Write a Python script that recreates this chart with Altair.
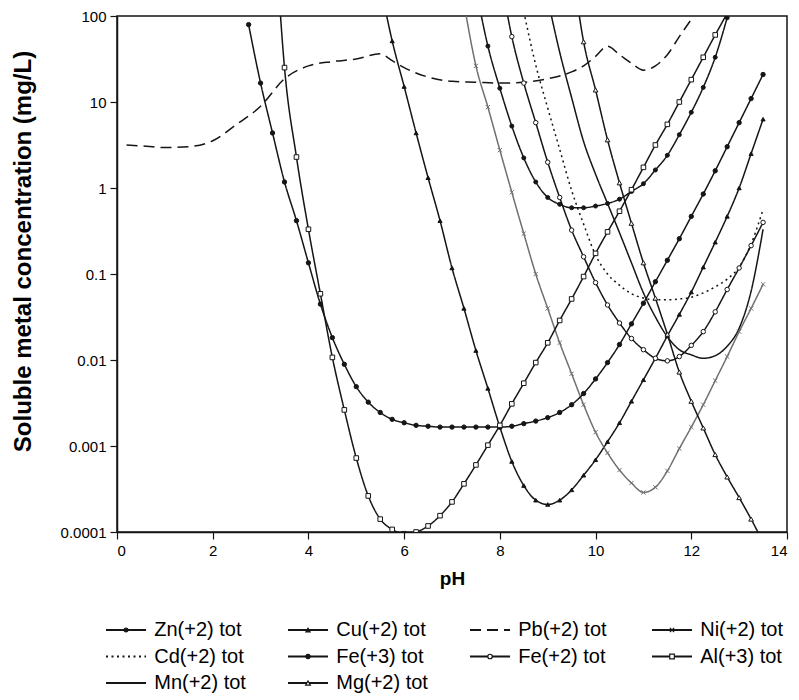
import altair as alt
import pandas as pd

# ---------------- data (log10 of mg/L) ----------------
SERIES = ["Zn(+2) tot", "Cu(+2) tot", "Pb(+2) tot", "Ni(+2) tot", "Cd(+2) tot",
          "Fe(+3) tot", "Fe(+2) tot", "Al(+3) tot", "Mn(+2) tot", "Mg(+2) tot"]

ph_pb = [0.2, 0.5, 1.0, 1.5, 2.0, 2.5, 3.0, 3.5, 4.0, 4.5, 5.0, 5.5, 5.75, 6.0, 6.5, 7.0,
         7.5, 8.0, 8.5, 9.0, 9.5, 9.75, 10.0, 10.25, 10.5, 10.75, 11.0, 11.25, 11.5, 11.75, 12.05]
log_pb = [0.50, 0.49, 0.47, 0.48, 0.55, 0.74, 0.95, 1.27, 1.42, 1.47, 1.50, 1.56, 1.48, 1.40, 1.29, 1.24,
          1.23, 1.22, 1.23, 1.27, 1.35, 1.42, 1.53, 1.65, 1.55, 1.45, 1.37, 1.42, 1.55, 1.76, 2.0]

ph_fe3 = [2.75, 3.0, 3.25, 3.5, 3.75, 4.0, 4.25, 4.5, 4.75, 5.0, 5.25, 5.5, 5.75, 6.0, 6.25,
          6.5, 6.75, 7.0, 7.25, 7.5, 7.75, 8.0, 8.25, 8.5, 8.75, 9.0, 9.25, 9.5, 9.75, 10.0,
          10.25, 10.5, 10.75, 11.0, 11.25, 11.5, 11.75, 12.0, 12.25, 12.5, 12.75, 13.0, 13.25, 13.5]
log_fe3 = [1.90, 1.22, 0.64, 0.07, -0.38, -0.87, -1.35, -1.74, -2.05, -2.31, -2.49, -2.61, -2.69, -2.73, -2.76,
           -2.77, -2.78, -2.78, -2.78, -2.78, -2.78, -2.78, -2.77, -2.74, -2.71, -2.67, -2.61, -2.52, -2.39, -2.22,
           -2.03, -1.82, -1.58, -1.34, -1.09, -0.84, -0.59, -0.33, -0.07, 0.20, 0.48, 0.76, 1.04, 1.32]

ph_al = [3.25, 3.5, 3.75, 4.0, 4.25, 4.5, 4.75, 5.0, 5.25, 5.5, 5.75, 6.0, 6.25, 6.5, 6.75,
         7.0, 7.25, 7.5, 7.75, 8.0, 8.25, 8.5, 8.75, 9.0, 9.25, 9.5, 9.75, 10.0, 10.25, 10.5,
         10.75, 11.0, 11.25, 11.5, 11.75, 12.0, 12.25, 12.5, 12.75]
log_al = [3.50, 1.40, 0.36, -0.48, -1.23, -1.97, -2.58, -3.14, -3.58, -3.85, -3.97, -4.02, -4.00, -3.93, -3.81,
          -3.65, -3.44, -3.22, -2.99, -2.76, -2.51, -2.27, -2.03, -1.80, -1.54, -1.29, -1.03, -0.76, -0.51, -0.27,
          -0.02, 0.24, 0.50, 0.74, 1.00, 1.26, 1.52, 1.78, 2.03]

ph_cu = [5.5, 5.75, 6.0, 6.25, 6.5, 6.75, 7.0, 7.25, 7.5, 7.75, 8.0, 8.25, 8.5, 8.75, 9.0, 9.25, 9.5,
         9.75, 10.0, 10.25, 10.5, 10.75, 11.0, 11.25, 11.5, 11.75, 12.0, 12.25, 12.5, 12.75, 13.0, 13.25, 13.5]
log_cu = [2.37, 1.71, 1.18, 0.64, 0.12, -0.38, -0.93, -1.40, -1.89, -2.33, -2.78, -3.18, -3.46, -3.63, -3.68, -3.63, -3.51,
          -3.34, -3.16, -2.95, -2.73, -2.48, -2.23, -1.98, -1.72, -1.47, -1.21, -0.92, -0.63, -0.33, 0.00, 0.40, 0.80]

ph_zn = [7.5, 7.75, 8.0, 8.25, 8.5, 8.75, 9.0, 9.25, 9.5, 9.75, 10.0, 10.25, 10.5, 10.75, 11.0,
         11.25, 11.5, 11.75, 12.0, 12.25, 12.5, 12.75]
log_zn = [2.32, 1.65, 1.16, 0.72, 0.35, 0.07, -0.11, -0.19, -0.23, -0.23, -0.21, -0.18, -0.13, -0.04, 0.05,
          0.21, 0.38, 0.62, 0.88, 1.17, 1.52, 1.98]

ph_ni = [7.25, 7.5, 7.75, 8.0, 8.25, 8.5, 8.75, 9.0, 9.25, 9.5, 9.75, 10.0, 10.25, 10.5, 10.75,
         11.0, 11.25, 11.5, 11.75, 12.0, 12.25, 12.5, 12.75, 13.0, 13.25, 13.5]
log_ni = [2.15, 1.42, 0.94, 0.44, -0.05, -0.53, -1.00, -1.40, -1.80, -2.16, -2.52, -2.84, -3.08, -3.28, -3.43,
          -3.54, -3.48, -3.29, -3.03, -2.78, -2.52, -2.24, -1.96, -1.67, -1.40, -1.12]

ph_fe2 = [8.0, 8.25, 8.5, 8.75, 9.0, 9.25, 9.5, 9.75, 10.0, 10.25, 10.5, 10.75, 11.0, 11.25, 11.5,
          11.75, 12.0, 12.25, 12.5, 12.75, 13.0, 13.25, 13.5]
log_fe2 = [2.51, 1.76, 1.22, 0.76, 0.30, -0.11, -0.49, -0.80, -1.10, -1.36, -1.57, -1.75, -1.88, -1.98, -2.01,
           -1.96, -1.83, -1.67, -1.44, -1.18, -0.93, -0.67, -0.40]

ph_cd = [8.5, 8.75, 9.0, 9.25, 9.5, 9.75, 10.0, 10.25, 10.5, 10.75, 11.0, 11.25, 11.5, 11.75, 12.0,
         12.25, 12.5, 12.75, 13.0, 13.25, 13.5]
log_cd = [2.05, 1.43, 0.93, 0.45, -0.03, -0.42, -0.78, -1.00, -1.13, -1.23, -1.28, -1.30, -1.30, -1.29, -1.27,
          -1.22, -1.15, -1.06, -0.92, -0.65, -0.25]

ph_mn = [9.0, 9.25, 9.5, 9.75, 10.0, 10.25, 10.5, 10.75, 11.0, 11.25, 11.5, 11.75, 12.0, 12.25, 12.5,
         12.75, 13.0, 13.25, 13.5]
log_mn = [2.20, 1.58, 1.05, 0.54, 0.16, -0.18, -0.52, -0.87, -1.22, -1.50, -1.73, -1.88, -1.94, -1.98, -1.95,
          -1.84, -1.63, -1.20, -0.48]

ph_mg = [9.5, 9.75, 10.0, 10.25, 10.5, 10.75, 11.0, 11.25, 11.5, 11.75, 12.0, 12.25, 12.5, 12.75,
         13.0, 13.25, 13.5]
log_mg = [2.64, 1.70, 1.14, 0.56, 0.06, -0.41, -0.87, -1.28, -1.70, -2.14, -2.48, -2.79, -3.10, -3.36,
          -3.60, -3.85, -4.12]

y_ticks = [0.0001, 0.001, 0.01, 0.1, 1, 10, 100]
x_ticks = [0, 2, 4, 6, 8, 10, 12, 14]

curves = {
    "Zn(+2) tot": (ph_zn, log_zn), "Cu(+2) tot": (ph_cu, log_cu), "Pb(+2) tot": (ph_pb, log_pb),
    "Ni(+2) tot": (ph_ni, log_ni), "Cd(+2) tot": (ph_cd, log_cd), "Fe(+3) tot": (ph_fe3, log_fe3),
    "Fe(+2) tot": (ph_fe2, log_fe2), "Al(+3) tot": (ph_al, log_al), "Mn(+2) tot": (ph_mn, log_mn),
    "Mg(+2) tot": (ph_mg, log_mg),
}
rows = []
for name, (xs, ls) in curves.items():
    for x, l in zip(xs, ls):
        rows.append({"series": name, "pH": x, "conc": 10 ** l})
df = pd.DataFrame(rows)

# ---------------- styles ----------------
BLACK = "#151515"
GREY = "#707070"
line_color = [BLACK, BLACK, BLACK, GREY, BLACK, BLACK, BLACK, BLACK, BLACK, BLACK]
line_dash = [[1, 0], [1, 0], [11, 6], [1, 0], [2, 3.5], [1, 0], [1, 0], [1, 0], [1, 0], [1, 0]]
line_width = [1.5, 1.5, 1.5, 1.2, 2.6, 2.0, 1.5, 1.5, 1.5, 1.5]

MARKED = ["Zn(+2) tot", "Cu(+2) tot", "Ni(+2) tot", "Fe(+3) tot", "Fe(+2) tot", "Al(+3) tot", "Mg(+2) tot"]
mk_shape = ["circle", "triangle-up", "M-1,-1L1,1M-1,1L1,-1", "circle", "circle", "square", "triangle-up"]
mk_fill = [BLACK, BLACK, "white", BLACK, "white", "white", "white"]
mk_stroke = [BLACK, BLACK, GREY, BLACK, BLACK, BLACK, BLACK]
mk_size = [16, 22, 22, 34, 26, 34, 34]

FONT = "Liberation Sans"

# ---------------- main plot ----------------
x_enc = alt.X("pH:Q", scale=alt.Scale(domain=[0, 14], nice=False),
              axis=alt.Axis(values=x_ticks, title="pH", grid=False, tickSize=7,
                            labelFontSize=15, titleFontSize=19, titleFontWeight="bold",
                            labelPadding=4, titleY=46, titleBaseline="middle"))
y_enc = alt.Y("conc:Q", scale=alt.Scale(type="log", domain=[0.0001, 100], nice=False),
              axis=alt.Axis(values=y_ticks, format="~g", title="Soluble metal concentration (mg/L)",
                            grid=False, tickSize=7, labelFontSize=15, titleFontSize=24,
                            titleFontWeight="bold", labelPadding=4, titleX=-94, titleY=235,
                            titleAngle=270, titleAlign="center", titleBaseline="middle"))

shape_enc = alt.Shape("series:N", scale=alt.Scale(domain=MARKED, range=mk_shape), legend=None)
fill_enc = alt.Fill("series:N", scale=alt.Scale(domain=MARKED, range=mk_fill), legend=None)
stroke_enc = alt.Stroke("series:N", scale=alt.Scale(domain=MARKED, range=mk_stroke), legend=None)
size_enc = alt.Size("series:N", scale=alt.Scale(domain=MARKED, range=mk_size), legend=None)
dash_enc = alt.StrokeDash("series:N", scale=alt.Scale(domain=SERIES, range=line_dash), legend=None)

lines = alt.Chart(df).mark_line(clip=True, interpolate="monotone").encode(
    x=x_enc, y=y_enc,
    color=alt.Color("series:N", scale=alt.Scale(domain=SERIES, range=line_color), legend=None),
    strokeDash=dash_enc,
    strokeWidth=alt.StrokeWidth("series:N", scale=alt.Scale(domain=SERIES, range=line_width), legend=None),
    order="pH:Q",
)

points = alt.Chart(df).transform_filter(
    alt.FieldOneOfPredicate(field="series", oneOf=MARKED)
).mark_point(clip=True, opacity=1, strokeWidth=1, fillOpacity=1).encode(
    x="pH:Q", y="conc:Q",
    shape=shape_enc, fill=fill_enc, stroke=stroke_enc, size=size_enc,
)

main = alt.layer(lines, points)

# ---------------- legend (4 columns, row-major, below the plot) ----------------
N_COLS = 4
leg_rows = []
for i, name in enumerate(SERIES):
    col, row = i % N_COLS, i // N_COLS
    leg_rows.append({"series": name, "row": row,
                     "x0": col, "x1": col + 0.22, "xm": col + 0.11, "xt": col + 0.265})
legend_df = pd.DataFrame(leg_rows)

lx_scale = alt.Scale(domain=[0, N_COLS], range=[-11, -11 + 182 * N_COLS])
ly_scale = alt.Scale(domain=[0, 2], range=[614, 667])

leg_lines = alt.Chart(legend_df).mark_rule(color=BLACK, strokeWidth=1.8).encode(
    x=alt.X("x0:Q", scale=lx_scale, axis=None), x2="x1:Q",
    y=alt.Y("row:Q", scale=ly_scale, axis=None),
    strokeDash=dash_enc,
)
leg_marks = alt.Chart(legend_df).transform_filter(
    alt.FieldOneOfPredicate(field="series", oneOf=MARKED)
).mark_point(opacity=1, strokeWidth=1.2, fillOpacity=1).encode(
    x=alt.X("xm:Q", scale=lx_scale, axis=None),
    y=alt.Y("row:Q", scale=ly_scale, axis=None),
    shape=shape_enc, fill=fill_enc, stroke=alt.value(BLACK), size=size_enc,
)
leg_text = alt.Chart(legend_df).mark_text(
    align="left", baseline="middle", fontSize=20, font=FONT, color="black"
).encode(
    x=alt.X("xt:Q", scale=lx_scale, axis=None),
    y=alt.Y("row:Q", scale=ly_scale, axis=None),
    text="series:N",
)
legend = alt.layer(leg_lines, leg_marks, leg_text)

chart = alt.layer(main, legend).resolve_scale(
    x="independent", y="independent"
).properties(
    width=670, height=516,
    autosize=alt.AutoSizeParams(type="none"),
    padding={"left": 109, "top": 8, "right": 4, "bottom": 166},
).configure_view(
    stroke=BLACK, strokeWidth=1.5
).configure_axis(
    domainColor=BLACK, domainWidth=1.5, tickColor=BLACK, tickWidth=1.2,
    labelColor="black", titleColor="black", labelFont=FONT, titleFont=FONT
)

chart.save("out.html", embed_options={"renderer": "svg", "actions": False})
